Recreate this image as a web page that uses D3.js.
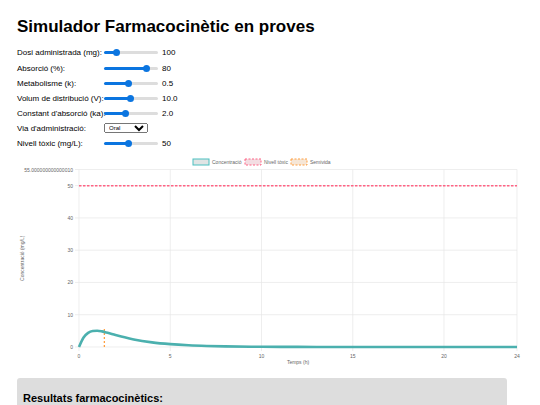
<!DOCTYPE html>
<html><head><meta charset="utf-8">
<script src="https://cdn.jsdelivr.net/npm/d3@7"></script>
<style>
body{margin:0;font-family:"Liberation Sans",Arial,sans-serif;width:540px;height:405px;overflow:hidden;background:#fff}
h1{position:absolute;left:17px;top:17px;margin:0;font-size:17px;font-weight:bold}
.row{position:absolute;left:17px;font-size:8px;height:12px;display:flex;align-items:center;white-space:nowrap}
.row label{width:87px;flex-shrink:0}
.row input[type=range]{-webkit-appearance:none;appearance:none;width:54px;height:3px;margin:0 4px 0 0;border-radius:2px}
.row input[type=range]::-webkit-slider-thumb{-webkit-appearance:none;width:7px;height:7px;border-radius:50%;background:#0b75e0;border:none}
.row select{font-size:6px;width:44px;height:10px;padding:0}
#res{position:absolute;left:17px;top:378px;width:490px;height:40px;background:#ddd;border-radius:3px}
#res b{position:absolute;left:6px;top:14px;font-size:11px}
</style></head><body>
<h1>Simulador Farmacocinètic en proves</h1>
<div id="controls"></div>
<svg id="chart" width="540" height="375" style="position:absolute;left:0;top:0"></svg>
<div id="res"><b>Resultats farmacocinètics:</b></div>
<script>
// controls
var ctrlLabels = ["Dosi administrada (mg):", "Absorció (%):", "Metabolisme (k):", "Volum de distribució (V):", "Constant d'absorció (ka):", "Via d'administració:", "Nivell tòxic (mg/L):"];
var ctrlValues = ["100", "80", "0.5", "10.0", "2.0", "Oral", "50"];
var ctrlFrac = [0.2, 0.82, 0.45, 0.48, 0.38, null, 0.45];
var ctrlTop = [46, 62, 77, 92, 107, 122, 137];

var controls = d3.select("#controls");
ctrlLabels.forEach((l, i) => {
  var row = controls.append("div").attr("class", "row").style("top", ctrlTop[i] + "px");
  row.append("label").text(l);
  if (ctrlFrac[i] === null) {
    var s = row.append("select");
    s.append("option").text(ctrlValues[i]);
  } else {
    var p = ctrlFrac[i] * 100;
    row.append("input").attr("type", "range").attr("min", 0).attr("max", 100).property("value", p)
      .style("background", "linear-gradient(to right,#0b75e0 " + p + "%,#ddd " + p + "%)");
    row.append("span").text(ctrlValues[i]);
  }
});

// chart data
var times = [0, 0.25, 0.5, 0.75, 1, 1.25, 1.5, 2, 2.5, 3, 4, 5, 6, 7, 8, 10, 12, 14, 16, 20, 24];
var conc = [0, 2.94, 4.38, 4.95, 5.03, 4.85, 4.51, 3.73, 2.99, 2.35, 1.44, 0.88, 0.53, 0.32, 0.20, 0.07, 0.03, 0.01, 0.0, 0.0, 0.0];
var toxicLevel = 50;
var halfLife = 1.39;
var halfLifeTop = 5.9;
var xTicks = [0, 5, 10, 15, 20, 24];
var yTicks = [0, 10, 20, 30, 40, 50, 55];

var svg = d3.select("#chart");
var x = d3.scaleLinear().domain([0, 24]).range([79, 517]);
var y = d3.scaleLinear().domain([0, 55]).range([347, 169.5]);

// grid
svg.selectAll(".gx").data(xTicks).enter().append("line")
  .attr("x1", d => x(d)).attr("x2", d => x(d)).attr("y1", y(55)).attr("y2", y(0) + 4)
  .attr("stroke", "#e6e6e6").attr("stroke-width", 0.7);
svg.selectAll(".gy").data(yTicks).enter().append("line")
  .attr("x1", x(0) - 4).attr("x2", x(24)).attr("y1", d => y(d)).attr("y2", d => y(d))
  .attr("stroke", "#e6e6e6").attr("stroke-width", 0.7);

// tick labels
svg.selectAll(".tx").data(xTicks).enter().append("text")
  .attr("x", d => x(d)).attr("y", y(0) + 11).attr("text-anchor", "middle")
  .attr("font-size", 5).attr("fill", "#666").text(d => d);
svg.selectAll(".ty").data(yTicks).enter().append("text")
  .attr("x", x(0) - 6).attr("y", d => y(d) + 2).attr("text-anchor", "end")
  .attr("font-size", 5).attr("fill", "#666").text(d => d === 55 ? "55.000000000000010" : d);

svg.append("text").attr("x", x(12)).attr("y", 364).attr("text-anchor", "middle")
  .attr("font-size", 5).attr("fill", "#666").text("Temps (h)");
svg.append("text").attr("transform", "translate(24," + y(27.5) + ") rotate(-90)")
  .attr("text-anchor", "middle").attr("font-size", 5).attr("fill", "#666").text("Concentració (mg/L)");

// toxic line
svg.append("line").attr("x1", x(0)).attr("x2", x(24)).attr("y1", y(toxicLevel)).attr("y2", y(toxicLevel))
  .attr("stroke", "#ff6384").attr("stroke-width", 1.5).attr("stroke-dasharray", "2.5,1.5");

// half-life
svg.append("line").attr("x1", x(halfLife)).attr("x2", x(halfLife)).attr("y1", y(0)).attr("y2", y(halfLifeTop))
  .attr("stroke", "#ff9f40").attr("stroke-width", 1.3).attr("stroke-dasharray", "2,2");

// concentration curve
var line = d3.line().x((d, i) => x(times[i])).y(d => y(d)).curve(d3.curveMonotoneX);
svg.append("path").datum(conc).attr("d", line).attr("fill", "none")
  .attr("stroke", "#4bb0ae").attr("stroke-width", 2.6);

// legend
var legend = [
  {t: "Concentració", c: "#4bc0c0", f: "#e0e4e4", dash: null, x: 193},
  {t: "Nivell tòxic", c: "#ff6384", f: "#f3dde2", dash: "2,1.5", x: 245},
  {t: "Semivida", c: "#ff9f40", f: "#f6e6d6", dash: "2,1.5", x: 291}
];
legend.forEach(l => {
  svg.append("rect").attr("x", l.x).attr("y", 159).attr("width", 16).attr("height", 6)
    .attr("fill", l.f).attr("stroke", l.c).attr("stroke-width", 1).attr("stroke-dasharray", l.dash);
  svg.append("text").attr("x", l.x + 19).attr("y", 164).attr("font-size", 5).attr("fill", "#666").text(l.t);
});
</script>
</body></html>
